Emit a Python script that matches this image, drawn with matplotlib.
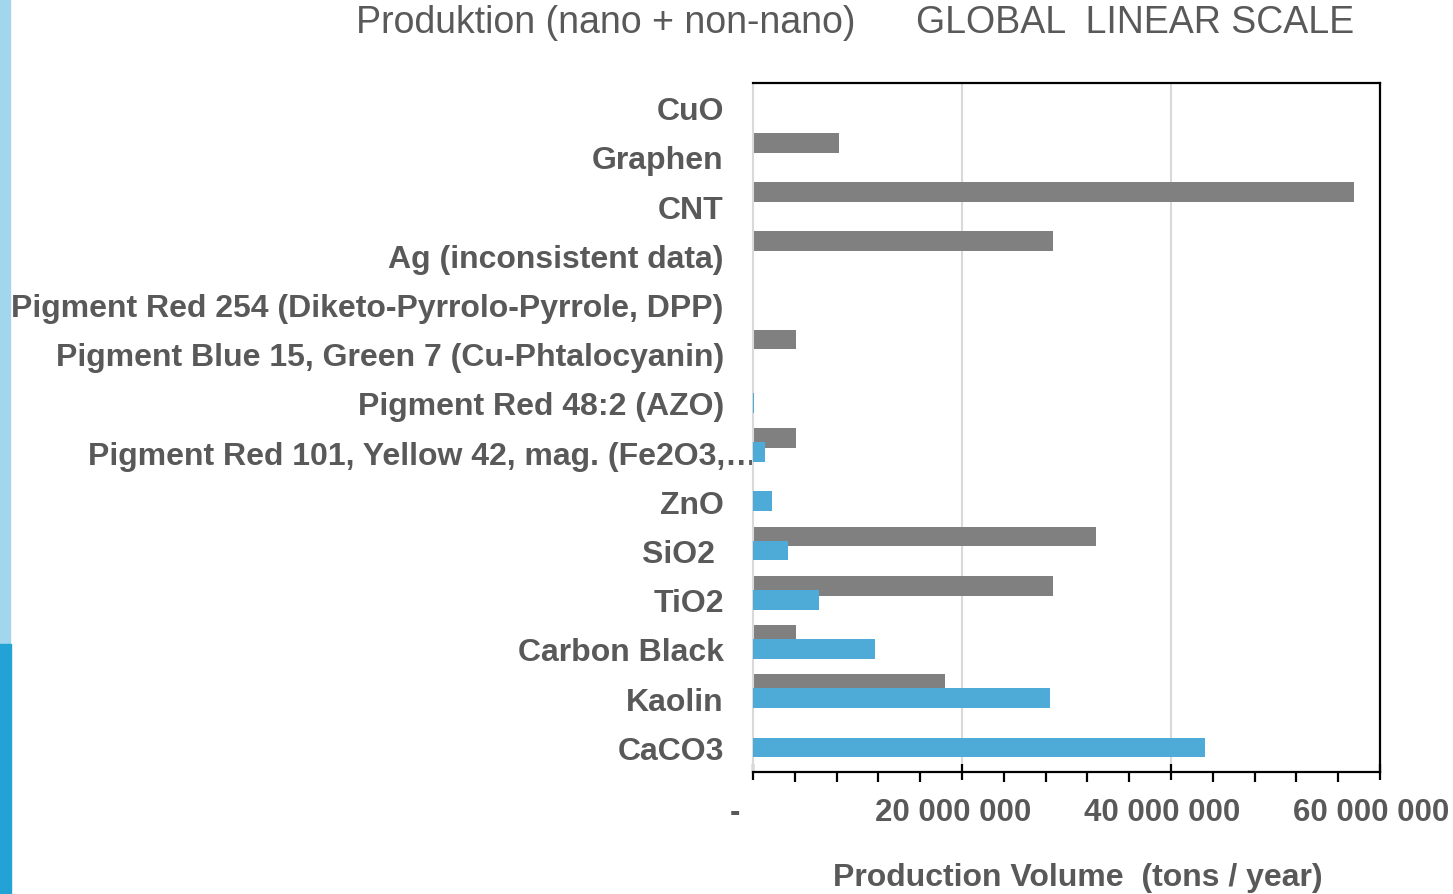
import matplotlib
matplotlib.use('Agg')
import matplotlib.pyplot as plt
import matplotlib.patches as mpatches
import matplotlib.transforms as mtransforms
from matplotlib.ticker import FixedLocator, MultipleLocator

# Categories listed bottom to top (barh draws index 0 at the bottom)
categories = [
    'CaCO3', 'Kaolin', 'Carbon Black', 'TiO2', 'SiO2 ', 'ZnO',
    'Pigment Red 101, Yellow 42, mag. (Fe2O3,\u2026',
    'Pigment Red 48:2 (AZO)',
    'Pigment Blue 15, Green 7 (Cu-Phtalocyanin)',
    'Pigment Red 254 (Diketo-Pyrrolo-Pyrrole, DPP)',
    'Ag (inconsistent data)', 'CNT', 'Graphen', 'CuO',
]
# tons / year, 0 where no bar is drawn
gray_series = [0, 18.4e6, 4.08e6, 28.7e6, 32.8e6, 0, 4.08e6, 0, 4.1e6, 0,
               28.7e6, 57.5e6, 8.2e6, 0]
blue_series = [43.3e6, 28.4e6, 11.7e6, 6.33e6, 3.31e6, 1.78e6, 1.13e6, 0.1e6,
               0, 0, 0, 0, 0, 0]

x_ticks = [0, 20e6, 40e6, 60e6]
x_ticklabels = ['-', '20 000 000', '40 000 000', '60 000 000']

GRAY = '#808080'
BLUE = '#4EAAD7'
TEXT = '#595959'
FONT = ['Liberation Sans', 'DejaVu Sans']

W, H = 1453, 895
fig = plt.figure(figsize=(W / 100, H / 100), dpi=100)
ax = fig.add_axes([753 / W, 1 - 773 / H, (1380 - 753) / W, (773 - 84) / H])

# Side stripe on the left edge
fig.patches.append(mpatches.Rectangle((0, 1 - 645 / H), 10 / W, 645 / H,
                                      transform=fig.transFigure,
                                      color='#A2D6EC', zorder=0))
fig.patches.append(mpatches.Rectangle((0, 0), 11 / W, 1 - 645 / H,
                                      transform=fig.transFigure,
                                      color='#22A2D5', zorder=0))

y = list(range(len(categories)))
ax.barh([v + 0.285 for v in y], gray_series, height=0.4, color=GRAY,
        linewidth=0, zorder=2)
ax.barh(y, blue_series, height=0.4, color=BLUE, linewidth=0, zorder=3)

ax.set_xlim(0, 60e6)
ax.set_ylim(-0.5, len(categories) - 0.5)


def shift(label, dx_px):
    label.set_transform(label.get_transform() +
                        mtransforms.ScaledTranslation(dx_px / 100, 0,
                                                      fig.dpi_scale_trans))


ax.xaxis.set_major_locator(FixedLocator(x_ticks))
ax.xaxis.set_minor_locator(MultipleLocator(4e6))
ax.set_xticklabels(x_ticklabels, family=FONT, fontsize=22.5,
                   fontweight='bold', color=TEXT)
ax.tick_params(axis='x', which='major', length=12, width=1.6, direction='inout',
               color='black', pad=12)
ax.tick_params(axis='x', which='minor', length=7, width=1.6, direction='out',
               color='black')
xlabs = ax.get_xticklabels()
shift(xlabs[0], -18)
for lab in xlabs[1:]:
    shift(lab, -8.5)

ax.set_yticks(y)
ax.set_yticklabels(categories, family=FONT, fontsize=23, fontweight='bold',
                   color=TEXT)
ax.tick_params(axis='y', length=0, pad=21)
# Truncated label runs past the others
shift(ax.get_yticklabels()[6], 33)

ax.grid(axis='x', which='major', color='#D9D9D9', linewidth=1.5, zorder=0)
ax.set_axisbelow(True)
ax.spines['left'].set_color('#D9D9D9')
ax.spines['left'].set_linewidth(1.5)
for side in ('top', 'right', 'bottom'):
    ax.spines[side].set_color('black')
    ax.spines[side].set_linewidth(1.6)

fig.text(1078 / W, 1 - 878 / H, 'Production Volume  (tons / year)',
         family=FONT, fontsize=23, fontweight='bold', color=TEXT,
         ha='center', va='center')
fig.text(606 / W, 1 - 23 / H, 'Produktion (nano + non-nano)',
         family=FONT, fontsize=27, color=TEXT, ha='center', va='center')
fig.text(1135 / W, 1 - 23 / H, 'GLOBAL  LINEAR SCALE',
         family=FONT, fontsize=27, color=TEXT, ha='center', va='center')

fig.savefig('out.png', dpi=100)
